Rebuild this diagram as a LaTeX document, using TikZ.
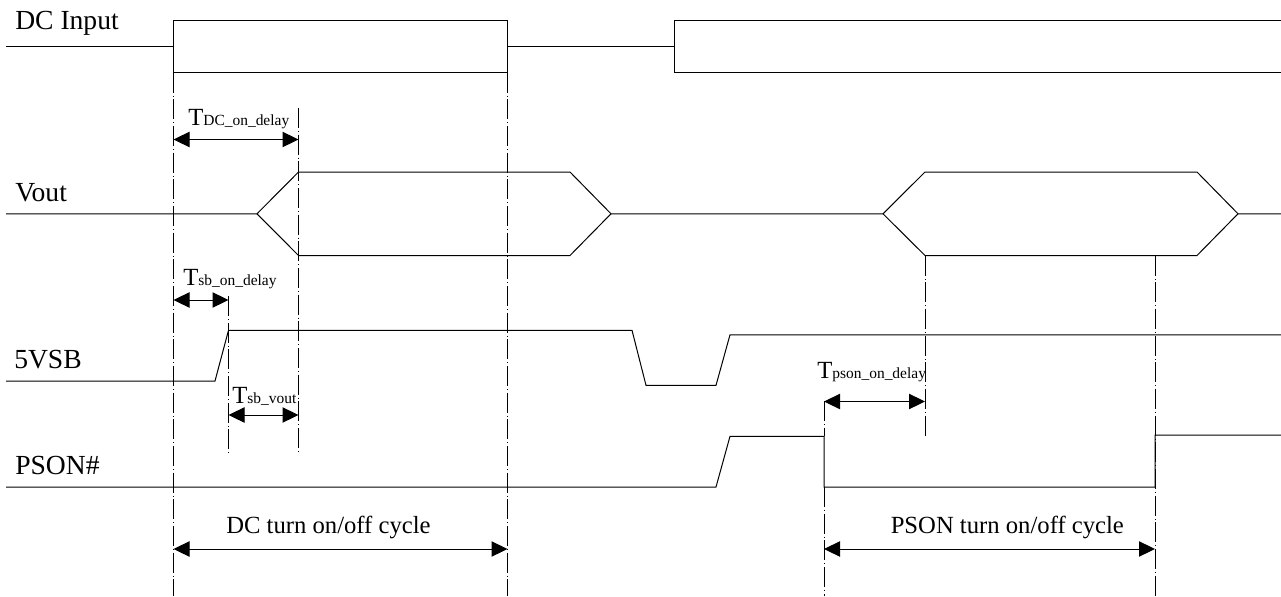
\documentclass[tikz,border=0pt]{standalone}
\usepackage{fontspec}
\setmainfont{Liberation Serif}
\usetikzlibrary{arrows.meta}
\tikzset{
  x=0.75pt,y=-0.75pt,
  sig/.style={line width=0.75pt,line join=miter},
  guide/.style={line width=0.75pt,dash pattern=on 15pt off 2.25pt on 0.75pt off 2pt},
  dim/.style={line width=0.75pt,{Triangle[length=12pt,width=11.5pt]}-{Triangle[length=12pt,width=11.5pt]}},
  lab/.style={anchor=base west,inner sep=0pt,font=\fontsize{20.7}{22}\selectfont},
  cyc/.style={anchor=base west,inner sep=0pt,font=\fontsize{18.5}{20}\selectfont},
  tim/.style={anchor=base west,inner sep=0pt,font=\fontsize{18.5}{20}\selectfont},
}
\newcommand{\subsz}[1]{{\fontsize{11.6}{12}\selectfont #1}}
\begin{document}
\begin{tikzpicture}
\useasboundingbox (0,0) rectangle (1281,596);
\fill[white] (0,0) rectangle (1281,596);
% guides
\coordinate (g1t) at (173.5,72.5);   \coordinate (g1b) at (173.5,596);
\coordinate (g2t) at (507.5,72.5);   \coordinate (g2b) at (507.5,596);
\coordinate (g3t) at (298.5,108);  \coordinate (g3b) at (298.5,454);
\coordinate (g4t) at (228.5,296);  \coordinate (g4b) at (228.5,454);
\coordinate (g5t) at (925,255.5);  \coordinate (g5b) at (925,436);
\coordinate (g6t) at (824,487);  \coordinate (g6b) at (824,596);
\coordinate (g7t) at (1155,255.5); \coordinate (g7b) at (1155,596);
\coordinate (g8t) at (824,401);  \coordinate (g8b) at (824,436);
\foreach \a/\b in {g1t/g1b,g2t/g2b,g3t/g3b,g4t/g4b,g5t/g5b,g6t/g6b,g7t/g7b,g8t/g8b}
  \draw[guide] (\a) -- (\b);
% DC input
\draw[sig] (6,46.8) -- (173.5,46.8) (173.5,72.5) -- (173.5,20.5) -- (507.5,20.5) -- (507.5,72.5) -- cycle;
\draw[sig] (507.5,46.8) -- (674.5,46.8);
\draw[sig] (1281,20.5) -- (674.5,20.5) -- (674.5,72.5) -- (1281,72.5);
% Vout
\draw[sig] (6,213.8) -- (257,213.8) -- (298.5,172) -- (570,172) -- (611,213.8) -- (883,213.8) -- (925,172) -- (1197,172) -- (1238,213.8) -- (1281,213.8);
\draw[sig] (257,213.8) -- (298.5,255.5) -- (570,255.5) -- (611,213.8);
\draw[sig] (883,213.8) -- (925,255.5) -- (1197,255.5) -- (1238,213.8);
% 5VSB
\draw[sig] (6,381) -- (215,381) -- (228.5,330.3) -- (632,330.3) -- (646,385.3) -- (716,385.3) -- (730,334.8) -- (1281,334.8);
% PSON#
\draw[sig] (6,487) -- (716,487) -- (730,436.3) -- (824,436.3) -- (824,487) -- (1155,487) -- (1155,435) -- (1281,435);
% dimension arrows
\coordinate (a1) at (173.5,139.5); \coordinate (a2) at (298.5,139.5);
\coordinate (b1) at (173.5,300);   \coordinate (b2) at (228.5,300);
\coordinate (c1) at (228.5,415);   \coordinate (c2) at (298.5,415);
\coordinate (d1) at (824,401.5); \coordinate (d2) at (925,401.5);
\coordinate (e1) at (173.5,549); \coordinate (e2) at (507.5,549);
\coordinate (f1) at (824,549); \coordinate (f2) at (1155,549);
\draw[dim] (a1) -- (a2);
\draw[dim] (b1) -- (b2);
\draw[dim] (c1) -- (c2);
\draw[dim] (d1) -- (d2);
\draw[dim] (e1) -- (e2);
\draw[dim] (f1) -- (f2);
% labels
\node[lab] (ldc) at (15,29) {DC Input};
\node[lab] (lvo) at (15,201) {Vout};
\node[lab] (l5v) at (14,368) {5VSB};
\node[lab] (lps) at (15,474) {PSON\#};
\node[tim] (tdc) at (188,125) {T\subsz{DC\_on\_delay}};
\node[tim] (tsb) at (183,285) {T\subsz{sb\_on\_delay}};
\node[tim] (tsv) at (232,403) {T\subsz{sb\_vout}};
\node[tim] (tps) at (817,378) {T\subsz{pson\_on\_delay}};
\node[cyc] (cdc) at (226,533) {DC turn on/off cycle};
\node[cyc] (cps) at (890.5,533) {PSON turn on/off cycle};
\end{tikzpicture}
\end{document}
